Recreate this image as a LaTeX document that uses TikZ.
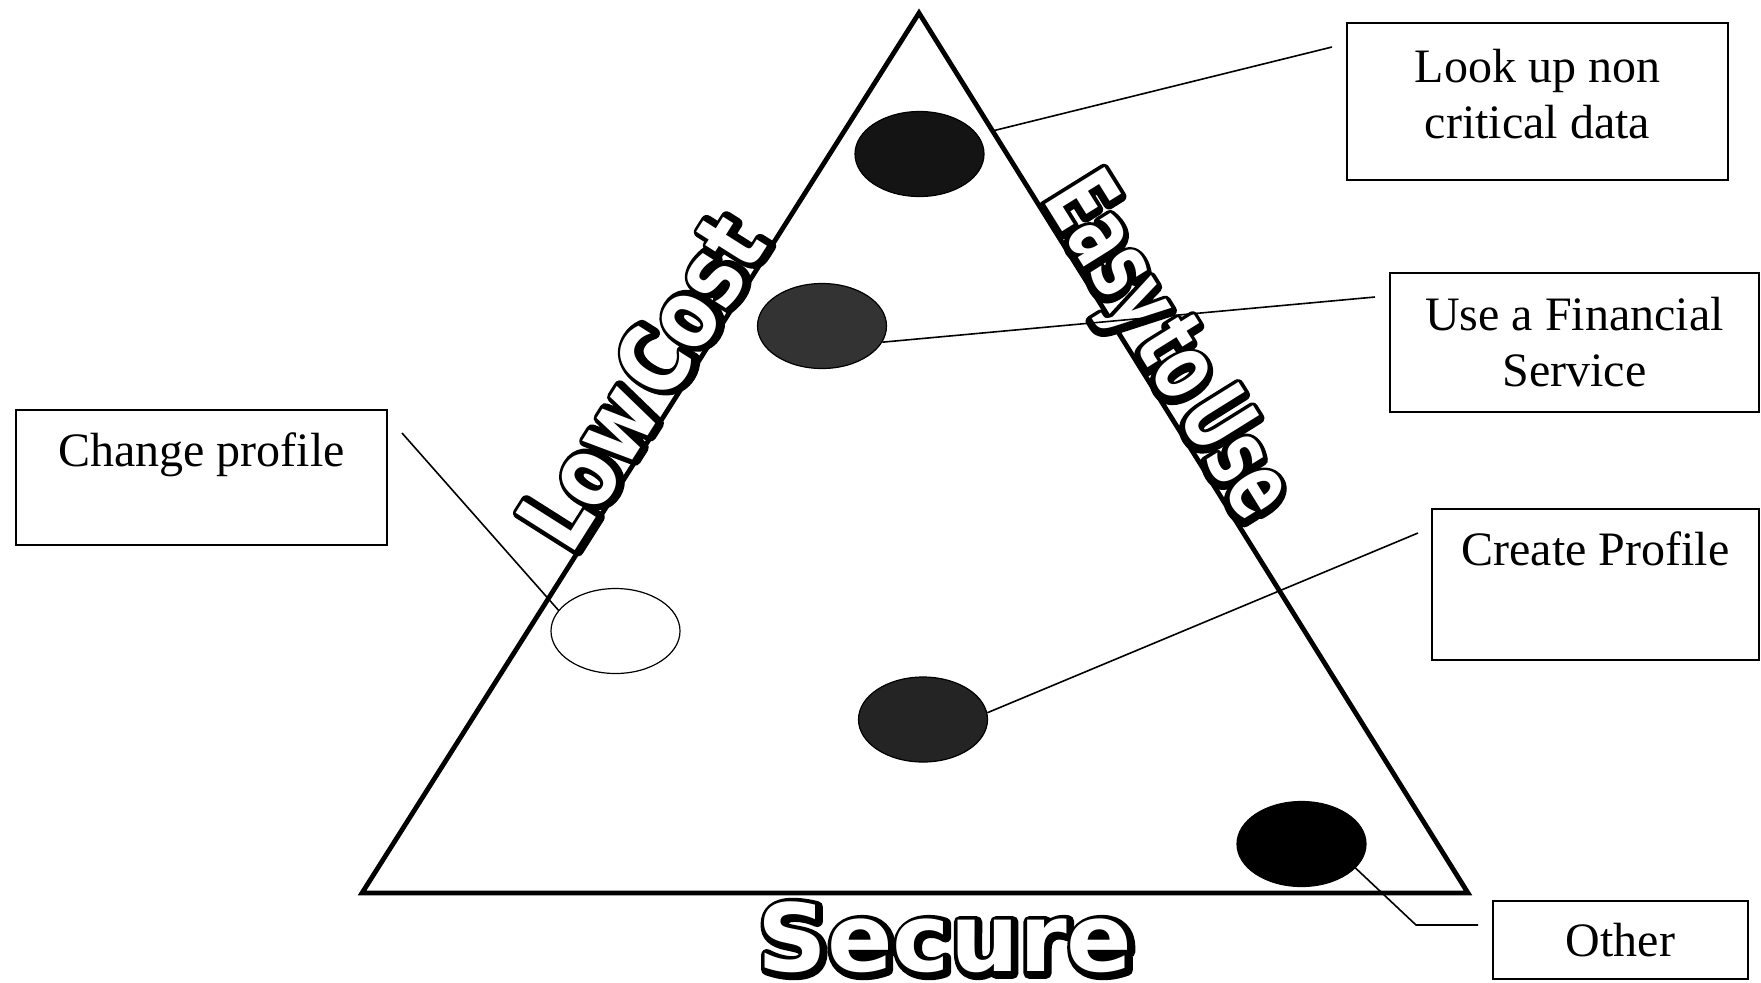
\documentclass[tikz,border=0pt]{standalone}
\usepackage{fontspec}
\usetikzlibrary{calc,shapes.geometric}
\setmainfont{Liberation Serif}
\newfontfamily\widebadge{DejaVu Sans Bold}[FakeStretch=1.03]
\newfontfamily\widerim{DejaVu Sans Bold}[FakeStretch=1.03,FakeBold=12]
\newfontfamily\lowbadge{DejaVu Sans Condensed Bold}[FakeStretch=0.88]
\newfontfamily\lowrim{DejaVu Sans Condensed Bold}[FakeStretch=0.88,FakeBold=12]
\newfontfamily\easybadge{DejaVu Sans Condensed Bold}[FakeStretch=0.72]
\newfontfamily\easyrim{DejaVu Sans Condensed Bold}[FakeStretch=0.72,FakeBold=12]
% white letters over a black, slightly shifted rim
\newcommand{\hollow}[2]{%
  \rlap{\special{pdf:literal direct 1 j}\kern0.9pt\raisebox{-1.1pt}{#1#2}\special{pdf:literal direct 0 j}}%
  \textcolor{white}{#2}}
\tikzset{
    side/.style={line width=2.4pt,line join=miter},
    dot/.style={ellipse,draw,line width=0.6pt,minimum width=64.5pt,minimum height=42.5pt,inner sep=0pt},
    box/.style={rectangle,draw,line width=1pt,align=center,inner sep=0pt,font=\fontsize{24}{28}\selectfont},
    leader/.style={line width=0.8pt},
    badge/.style={inner sep=0pt,anchor=base},
}

\begin{document}
\begin{tikzpicture}[x=0.5pt,y=-0.5pt]
    \useasboundingbox (0,0) rectangle (1761,982);
    % triangle
    \coordinate (apex) at (919,13);
    \coordinate (bl) at (362,893);
    \coordinate (br) at (1468,893);
    \draw[side] (apex) -- (br) -- (bl) -- cycle;

    % criteria on the sides
    \node[badge,rotate=57.7,font=\lowbadge\fontsize{48}{48}\selectfont]
        (lowcost) at ($(bl)!0.558!(apex)!1.5pt!90:(apex)$) {\hollow{\lowrim}{Low\hspace{0.1em}Cost}};
    \node[badge,rotate=-58.1,font=\easybadge\fontsize{48}{48}\selectfont]
        (easyuse) at ($(apex)!0.40!(br)!3pt!90:(br)$) {\hollow{\easyrim}{Easy\hspace{0.1em}to\hspace{0.1em}Use}};
    \node[badge,font=\widebadge\fontsize{47}{47}\selectfont] (secure) at (945,971) {\hollow{\widerim}{Secure}};

    % transactions
    \node[dot,fill=black!92] (lookdot) at (919.5,154) {};
    \node[dot,fill=black!80] (usedot) at (822,326) {};
    \node[dot,fill=white] (changedot) at (615.5,631) {};
    \node[dot,fill=black!86] (createdot) at (923,719.5) {};
    \node[dot,fill=black] (otherdot) at (1301.5,844) {};

    % labels
    \node[box,minimum width=190.5pt,minimum height=78.5pt] (lookbox) at (1537.5,101.5) {Look up non\\critical data\\[-20pt]\mbox{}};
    \node[box,minimum width=184.5pt,minimum height=69.5pt] (usebox) at (1574.5,342.5) {Use a Financial\\Service};
    \node[box,minimum width=185.5pt,minimum height=67.5pt] (changebox) at (201.5,477.5) {Change profile\\\mbox{}};
    \node[box,minimum width=163.5pt,minimum height=75.5pt] (createbox) at (1595.5,584.5) {Create Profile\\[8pt]\mbox{}};
    \node[box,minimum width=127.5pt,minimum height=39pt] (otherbox) at (1620.5,940) {Other};

    % leaders
    \coordinate (lookfoot) at ($(apex)!0.134!(br)$);
    \coordinate (lookend) at (1332,47);
    \coordinate (useend) at (1375,297);
    \coordinate (changeend) at (402,433);
    \coordinate (createend) at (1418,533);
    \coordinate (otherbend) at (1416,925);
    \coordinate (otherend) at (1478,925);
    \draw[leader] (lookfoot) -- (lookend);
    \draw[leader] (usedot.-15) -- (useend);
    \draw[leader] (changeend) -- (changedot.160);
    \draw[leader] (createdot.6) -- (createend);
    \draw[leader] (otherdot.-24) -- (otherbend) -- (otherend);
\end{tikzpicture}
\end{document}
